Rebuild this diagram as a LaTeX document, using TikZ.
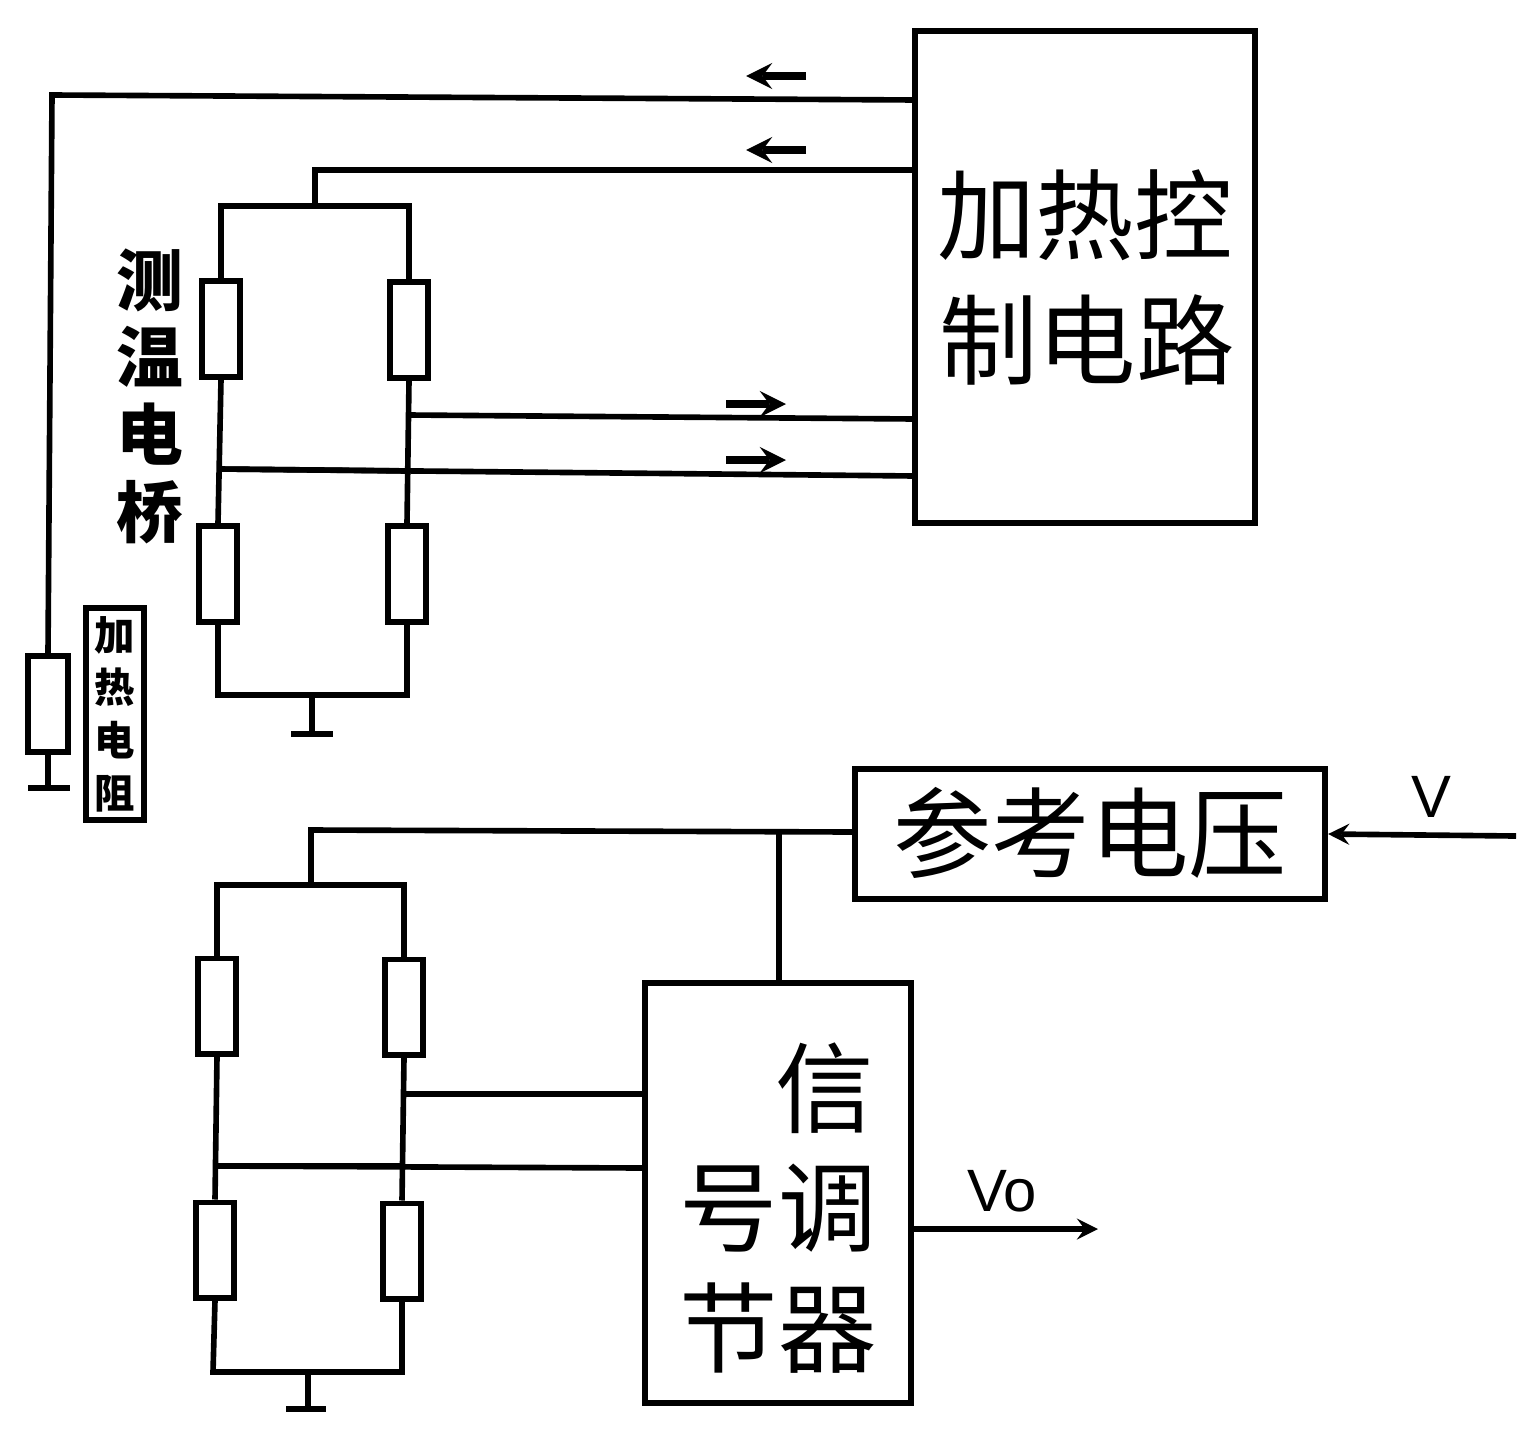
\documentclass[tikz,border=0pt]{standalone}
\usepackage{fontspec}
\setmainfont{Liberation Sans}
\newfontfamily\cjk{Noto Sans CJK SC}
\tikzset{
  wire/.style={line width=1.6pt,black},
  blockbox/.style={draw=black,line width=1.7pt,fill=white,inner sep=0pt},
  resbox/.style={draw=black,line width=1.7pt,fill=white,minimum width=0.38cm,minimum height=0.95cm,inner sep=0pt,anchor=center},
  bigtext/.style={font=\cjk\fontsize{28}{28}\selectfont,inner sep=0pt},
  sidetext/.style={font=\cjk\bfseries\fontsize{19}{22}\selectfont,inner sep=0pt,align=center},
  tinytext/.style={font=\cjk\bfseries\fontsize{11.5}{15}\selectfont,inner sep=0pt,align=center},
  sigtext/.style={font=\fontsize{17}{17}\selectfont,inner sep=0pt},
  flowarrow/.style={line width=2.2pt,black,-stealth},
}
\begin{document}
\begin{tikzpicture}[x=0.01cm,y=-0.01cm,>=stealth]
  \useasboundingbox (0,0) rectangle (1540,1436);

  % blocks
  \node[blockbox,minimum width=3.4cm,minimum height=4.92cm] (heatctl) at (1085,277) {};
  \node[blockbox,minimum width=4.7cm,minimum height=1.3cm] (refv) at (1090,834) {};
  \node[blockbox,minimum width=2.65cm,minimum height=4.2cm] (sigcond) at (778,1193) {};

  \node[bigtext] (heatctla) at (1085,215) {加热控};
  \node[bigtext] (heatctlb) at (1087,340) {制电路};
  \node[bigtext] (refvt) at (1090,833) {参考电压};
  \node[bigtext] (sigcondb) at (825,1088) {信};
  \node[bigtext] (sigcondc) at (778,1208) {号调};
  \node[bigtext] (sigcondd) at (778,1328) {节器};

  % upper bridge
  \node[resbox] (ra) at (221,329) {};
  \node[resbox] (rb) at (409,330) {};
  \node[resbox] (rc) at (218,574) {};
  \node[resbox] (rd) at (407,574) {};
  \coordinate (topl) at (221,206);
  \coordinate (topr) at (409,206);
  \coordinate (topm) at (315,206);
  \coordinate (botl) at (218,695);
  \coordinate (botr) at (407,695);
  \coordinate (botm) at (312,695);
  \coordinate (gnda) at (312,734);
  \coordinate (midb) at (409,415);
  \coordinate (midc) at (408,471);
  \coordinate (midd) at (220,469);
  \draw[wire] (ra.north) -- (topl) -- (topr) -- (rb.north);
  \draw[wire] (ra.south) -- (rc.north);
  \draw[wire] (rb.south) -- (rd.north);
  \draw[wire] (rc.south) -- (botl) -- (botr) -- (rd.south);
  \draw[wire] (midd) -- (midc);
  \draw[wire] (botm) -- (gnda);
  \draw[wire] (291,734) -- (333,734);
  \coordinate (inupa) at (915,170);
  \draw[wire] (topm) -- (315,170) -- (inupa);
  \coordinate (outa) at (915,419);
  \coordinate (outb) at (915,476);
  \draw[wire] (midb) -- (outa);
  \draw[wire] (midd) -- (outb);

  % heater
  \node[resbox,minimum width=0.4cm] (rh) at (48,704) {};
  \coordinate (inupb) at (917,100);
  \draw[wire] (rh.north) -- (52,95) -- (inupb);
  \draw[wire] (rh.south) -- (48,788);
  \draw[wire] (28,788) -- (70,788);
  \node[sidetext] (lblbridge) at (150,396) {测\\温\\电\\桥};
  \node[draw=black,line width=1.9pt,fill=white,minimum width=0.58cm,minimum height=2.12cm,inner sep=0pt] (lblheatbox) at (115,714) {};
  \node[tinytext] (lblheat) at (115,714) {加\\热\\电\\阻};

  % small flow arrows
  \coordinate (fa) at (806,76);
  \coordinate (fb) at (746,76);
  \coordinate (fc) at (806,150);
  \coordinate (fd) at (746,150);
  \coordinate (fe) at (726,404);
  \coordinate (ff) at (786,404);
  \coordinate (fg) at (726,460);
  \coordinate (fh) at (786,460);
  \draw[flowarrow] (fa) -- (fb);
  \draw[flowarrow] (fc) -- (fd);
  \draw[flowarrow] (fe) -- (ff);
  \draw[flowarrow] (fg) -- (fh);

  % lower bridge
  \node[resbox] (re) at (217,1006) {};
  \node[resbox] (rf) at (404,1007) {};
  \node[resbox] (rg) at (215,1250) {};
  \node[resbox] (rh2) at (402,1251) {};
  \coordinate (ltopl) at (217,885);
  \coordinate (ltopr) at (404,885);
  \coordinate (lbotl) at (213,1372);
  \coordinate (lbotr) at (402,1372);
  \coordinate (lmidr) at (403,1094);
  \coordinate (lmidc) at (403,1166);
  \coordinate (lmidl) at (215,1166);
  \draw[wire] (re.north) -- (ltopl) -- (ltopr) -- (rf.north);
  \draw[wire] (re.south) -- (rg.north);
  \draw[wire] (rf.south) -- (rh2.north);
  \draw[wire] (rg.south) -- (lbotl) -- (lbotr) -- (rh2.south);
  \draw[wire] (lmidl) -- (lmidc);
  \draw[wire] (lmidr) -- (645,1094);
  \draw[wire] (lmidl) -- (645,1168);
  \draw[wire] (308,1372) -- (308,1409);
  \draw[wire] (286,1409) -- (326,1409);
  \draw[wire] (311,885) -- (311,830) -- (855,832);
  \draw[wire] (779,831) -- (779,981);

  % signals
  \coordinate (vin) at (1516,836);
  \coordinate (vout) at (1098,1229);
  \draw[wire,-stealth] (vin) -- (refv.east);
  \draw[wire,-stealth] (sigcond.east |- vout) -- (vout);
  \node[sigtext] (lblv) at (1431,797) {V};
  \node[sigtext] (lblvo) at (1002,1191) {Vo};
\end{tikzpicture}
\end{document}
